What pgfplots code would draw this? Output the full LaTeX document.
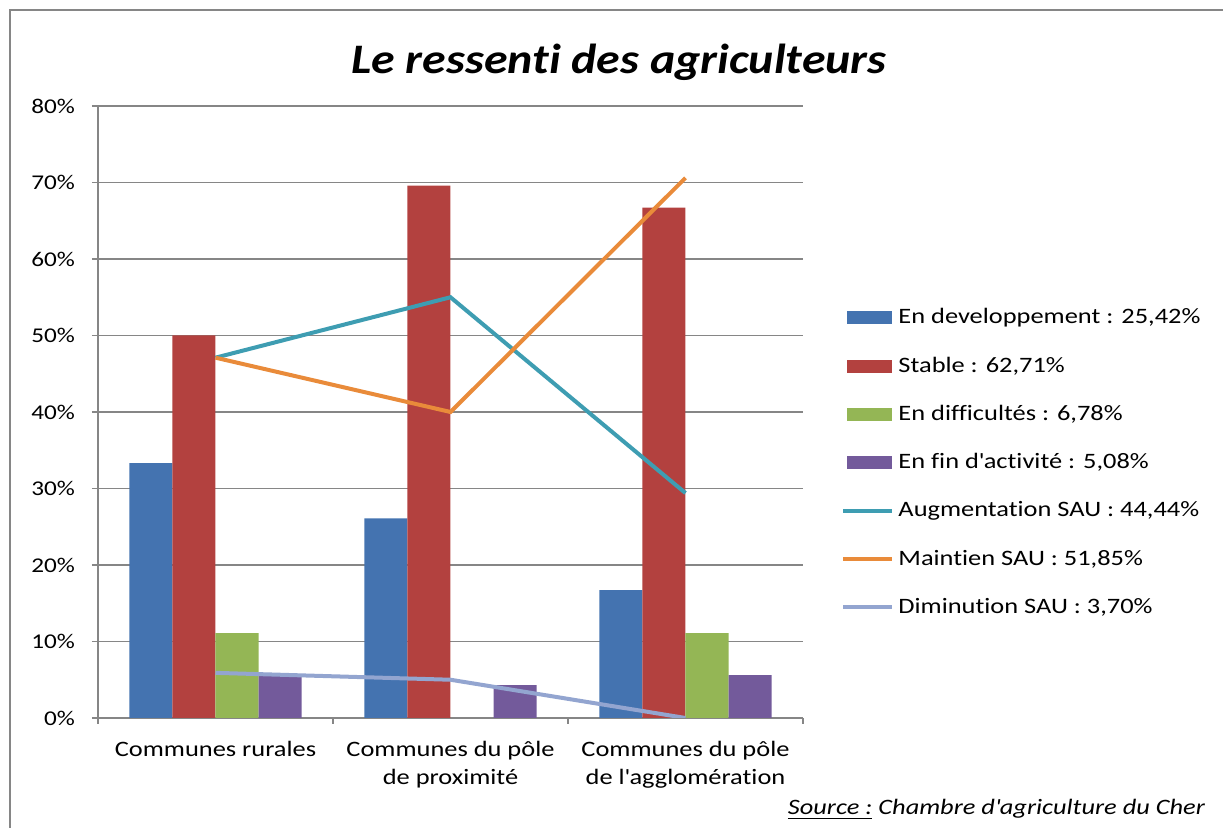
\documentclass[border=0pt]{standalone}
\usepackage{fontspec}
\setmainfont{Carlito}[FakeStretch=1.2, Ligatures={NoCommon}]
\newfontfamily\titlefont{Carlito}[FakeStretch=1.14, Ligatures={NoCommon}]
\usepackage{pgfplots}
\pgfplotsset{compat=1.18}

\definecolor{cblue}{HTML}{4473B0}
\definecolor{cred}{HTML}{B3413F}
\definecolor{cgreen}{HTML}{94B655}
\definecolor{cpurple}{HTML}{735A9B}
\definecolor{cteal}{HTML}{3E9DB2}
\definecolor{corange}{HTML}{E98B3A}
\definecolor{clight}{HTML}{93A5D0}
\definecolor{axgray}{HTML}{868686}

\pgfplotsset{
  barleg/.style={legend image code/.code={\fill[##1] (0pt,-3.2pt) rectangle (22.5pt,3.2pt);}},
  lineleg/.style={legend image code/.code={\draw[##1] (-2pt,0pt) -- (22.5pt,0pt);}},
}

\begin{document}
\begin{tikzpicture}
\path[use as bounding box] (0,0) rectangle (611.5pt,414pt);
\draw[axgray, line width=0.7pt] (5pt,-1pt) -- (5pt,409pt) -- (612pt,409pt);

\node[font=\titlefont\fontsize{21}{24}\selectfont\bfseries\itshape] at (309.5pt,383pt) {Le ressenti des agriculteurs};

\begin{axis}[
  at={(49pt,55pt)}, anchor=south west,
  scale only axis, width=352.5pt, height=306pt,
  xmin=-0.5, xmax=2.5, ymin=0, ymax=80,
  axis lines*=left,
  axis line style={-, draw=axgray, line width=0.6pt},
  xtick={0,1,2},
  xticklabels={{Communes rurales},{Communes du pôle\\de proximité},{Communes du pôle\\de l\textquotesingle agglomération}},
  minor xtick={-0.5,0.5,1.5,2.5},
  major x tick style={draw=none},
  minor x tick style={draw=axgray, line width=0.6pt},
  tick align=outside,
  minor tick length=3pt,
  major tick length=3pt,
  xticklabel style={align=center, anchor=north, font=\fontsize{11}{14}\selectfont, yshift=-5pt},
  ytick={0,10,...,80},
  yticklabel={\pgfmathprintnumber{\tick}\%},
  /pgf/number format/assume math mode=true,
  yticklabel style={font=\fontsize{10.5}{13}\selectfont, xshift=-5pt},
  ytick style={draw=axgray, line width=0.6pt},
  ymajorgrids,
  grid style={draw=axgray, line width=0.6pt},
  legend style={at={(1.054,0.676)}, anchor=north west, draw=none, fill=none,
    font=\fontsize{11}{13}\selectfont, row sep=11pt, inner sep=0pt},
  legend cell align=left,
]
\addplot[ybar, bar width=0.183, bar shift=-0.2745, fill=cblue, draw=none, barleg]
  coordinates {(0,33.3) (1,26.1) (2,16.7)};
\addlegendentry{En developpement : 25,42\%}
\addplot[ybar, bar width=0.183, bar shift=-0.0915, fill=cred, draw=none, barleg]
  coordinates {(0,50.0) (1,69.6) (2,66.7)};
\addlegendentry{Stable : 62,71\%}
\addplot[ybar, bar width=0.183, bar shift=0.0915, fill=cgreen, draw=none, barleg]
  coordinates {(0,11.1) (2,11.1)};
\addlegendentry{En difficultés : 6,78\%}
\addplot[ybar, bar width=0.183, bar shift=0.2745, fill=cpurple, draw=none, barleg]
  coordinates {(0,5.6) (1,4.3) (2,5.6)};
\addlegendentry{En fin d\textquotesingle activité : 5,08\%}
\addplot[sharp plot, cteal, line width=2pt, mark=none, lineleg]
  coordinates {(0,47.1) (1,55.0) (2,29.4)};
\addlegendentry{Augmentation SAU : 44,44\%}
\addplot[sharp plot, corange, line width=2pt, mark=none, lineleg]
  coordinates {(0,47.1) (1,40.0) (2,70.6)};
\addlegendentry{Maintien SAU : 51,85\%}
\addplot[sharp plot, clight, line width=2pt, mark=none, lineleg]
  coordinates {(0,5.9) (1,5.0) (2,0)};
\addlegendentry{Diminution SAU : 3,70\%}
\end{axis}

\node[anchor=base east, font=\fontsize{11}{13}\selectfont\itshape] at (606pt,6.5pt) {\underline{Source :} Chambre d\textquotesingle agriculture du Cher};
\end{tikzpicture}
\end{document}
